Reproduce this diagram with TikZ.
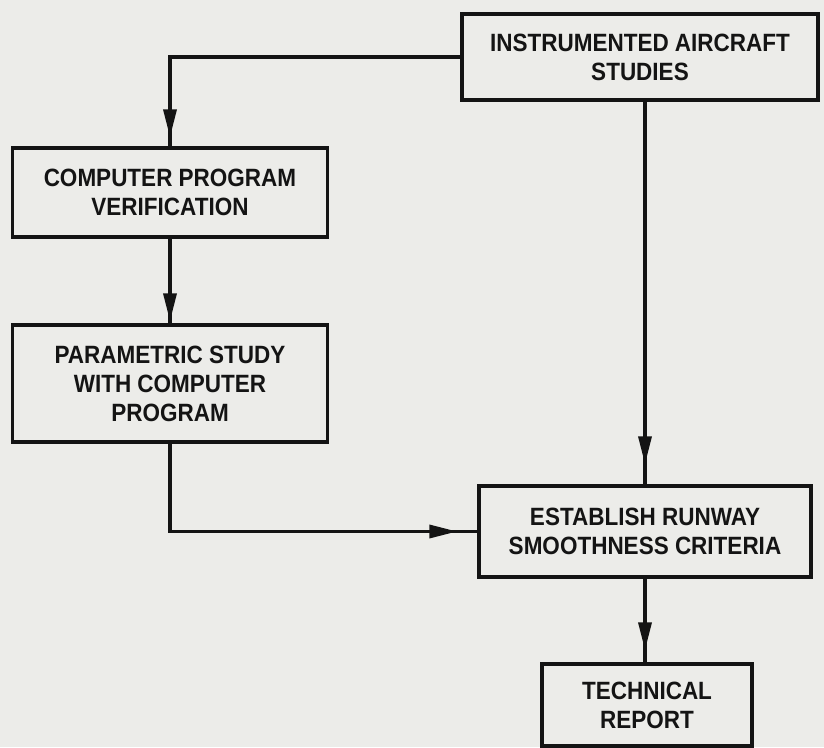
\documentclass[tikz,border=0pt]{standalone}
\usepackage{fontspec}
\newfontfamily\lettering[FakeStretch=0.9]{Liberation Sans Bold}
\usetikzlibrary{arrows.meta,decorations.markings,calc}
\definecolor{paper}{RGB}{236,236,233}
\definecolor{ink}{RGB}{20,20,20}
\begin{document}
\begin{tikzpicture}[x=1pt,y=-1pt,
  box/.style={draw=ink,line width=3.5pt,fill=paper,rectangle,align=center,inner sep=0pt,
    font=\lettering\fontsize{25}{29}\selectfont,text=ink},
  flow/.style={draw=ink,line width=3.5pt,line join=miter},
  arrowed/.style={flow,postaction={decorate},decoration={markings,
    mark=at position -#1 with {\arrow{Triangle[length=28pt,width=13pt]}}}},
  arrowed/.default=9pt]
\fill[paper] (0,0) rectangle (824,747);
\useasboundingbox (0,0) rectangle (824,747);
\node[box,minimum width=356pt,minimum height=86pt] (ias) at (640,57) {INSTRUMENTED AIRCRAFT\\STUDIES};
\node[box,minimum width=315pt,minimum height=89pt] (cpv) at (170,192.5) {COMPUTER PROGRAM\\VERIFICATION};
\node[box,minimum width=315pt,minimum height=117pt] (psw) at (170,383.5) {PARAMETRIC STUDY\\WITH COMPUTER\\PROGRAM};
\node[box,minimum width=332pt,minimum height=91pt] (ers) at (645,531.5) {ESTABLISH RUNWAY\\SMOOTHNESS CRITERIA};
\node[box,minimum width=210pt,minimum height=82pt] (tr) at (647,705) {TECHNICAL\\REPORT};
\draw[arrowed] (ias.west) -| (cpv.north);
\draw[arrowed=2pt] (cpv.south) -- (psw.north);
\draw[arrowed=20pt] (psw.south) |- (ers.west);
\draw[arrowed=20pt] (ias.south -| ers.north) -- (ers.north);
\draw[arrowed=12pt] (ers.south) -- (ers.south |- tr.north);
\end{tikzpicture}
\end{document}
